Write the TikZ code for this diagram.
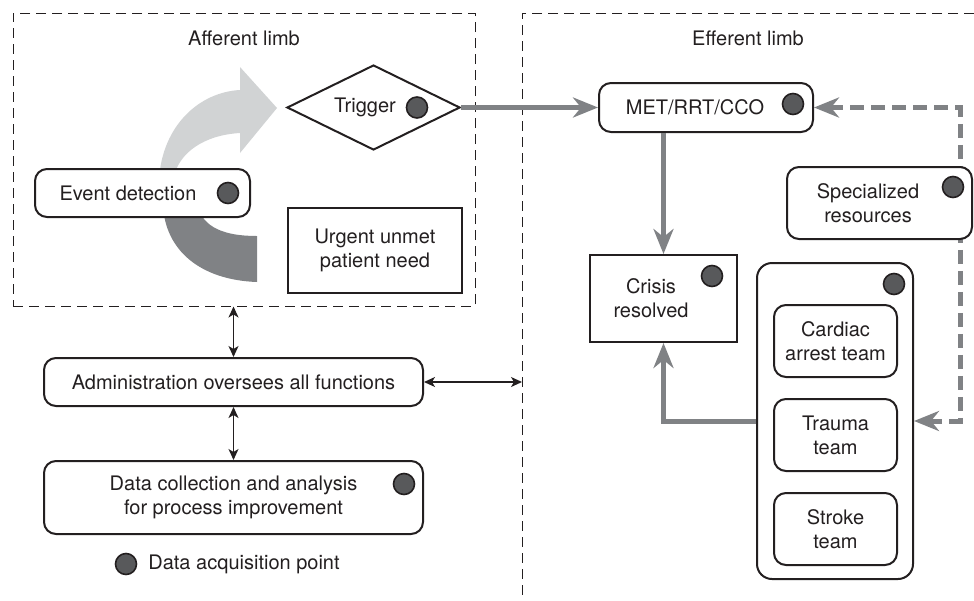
\documentclass[tikz,border=0pt]{standalone}
\usepackage{fontspec}
\setmainfont{TeX Gyre Heros}
\usepackage{tikz}
\usetikzlibrary{arrows.meta, positioning, backgrounds, shapes.geometric}
\definecolor{inkblack}{HTML}{231F20}
\definecolor{pathgray}{HTML}{808285}
\definecolor{bandlight}{HTML}{D1D3D4}
\definecolor{dotgray}{HTML}{58595B}
\tikzset{
  rbox/.style  = {rectangle, draw=inkblack, fill=white, rounded corners=6pt,
                  line width=1pt, inner sep=0pt},
  sbox/.style  = {rectangle, draw=inkblack, fill=white, line width=1pt},
  txt/.style   = {align=center, text=inkblack, font=\fontsize{10}{12}\selectfont},
  team/.style  = {rbox, txt, minimum width=61.5pt, minimum height=36pt},
  acq/.style   = {circle, draw=inkblack, fill=dotgray, line width=0.8pt,
                  minimum size=10.5pt, inner sep=0pt},
  limb/.style  = {draw=inkblack, line width=0.5pt, dash pattern=on 5pt off 3pt},
  garr/.style  = {-{Stealth[length=12.5pt, width=10pt, inset=4pt]},
                  draw=pathgray, line width=2.5pt},
  gdash/.style = {{Stealth[length=12.5pt, width=10pt, inset=4pt]}-{Stealth[length=12.5pt, width=10pt, inset=4pt]},
                  draw=pathgray, line width=2.5pt, dash pattern=on 7pt off 3.5pt},
  dbl/.style   = {{Stealth[length=5.5pt, width=5pt, inset=1.5pt]}-{Stealth[length=5.5pt, width=5pt, inset=1.5pt]},
                  draw=inkblack, line width=0.7pt},
}

\begin{document}
\begin{tikzpicture}[x=0.5pt, y=-0.5pt]
  \useasboundingbox (0,0) rectangle (974,600);

  % the two limbs
  \node[limb, minimum width=231pt, minimum height=146.5pt] (aff) at (244,159.5) {};
  \node[txt] (aff-t) at (244,38) {Afferent limb};
  \draw[limb] (974,13) -- (522,13) -- (522,600);
  \node[txt] (eff-t) at (748,38) {Efferent limb};
  \coordinate (effedge) at (522,382);

  % turning band behind event detection
  \fill[bandlight] (159,180) .. controls (162,125) and (200,92) .. (240,90)
    -- (240,67) -- (277,108) -- (240,153) -- (240,133)
    .. controls (205,135) and (178,152) .. (173,180) -- cycle;
  \fill[pathgray] (163,205) .. controls (165,250) and (200,280) .. (257,282)
    -- (257,236) .. controls (225,236) and (203,228) .. (197,205) -- cycle;

  % afferent limb
  \node[rbox, minimum width=107.5pt, minimum height=24pt] (evt) at (142.5,193) {};
  \node[txt] (evt-t) at ([xshift=-7.25pt]evt.center) {Event detection};
  \node[acq] (evt-dot) at ([xshift=-11.5pt]evt.east) {};

  \node[diamond, draw=inkblack, fill=white, line width=1pt, inner sep=0pt,
        minimum width=86.5pt, minimum height=42.5pt] (trig) at (373.5,107.5) {};
  \node[txt] (trig-t) at ([xshift=-4.25pt]trig.center) {Trigger};
  \node[acq] (trig-dot) at ([xshift=21.75pt]trig.center) {};

  \node[sbox, txt, minimum width=87pt, minimum height=42.5pt] (urg) at (375,250.5)
    {Urgent unmet\\patient need};

  % efferent limb
  \node[rbox, minimum width=107pt, minimum height=24.5pt] (met) at (706,107.5) {};
  \node[txt] (met-t) at ([xshift=-5.5pt]met.center) {MET/RRT/CCO};
  \node[acq] (met-dot) at ([xshift=-10.5pt, yshift=1.75pt]met.east) {};

  \node[rbox, minimum width=92.5pt, minimum height=36pt] (spec) at (879.5,203) {};
  \node[txt] (spec-t) at ([xshift=-5.75pt]spec.center) {Specialized\\resources};
  \node[acq] (spec-dot) at ([xshift=-10pt, yshift=-10.5pt]spec.north east) {};

  \node[sbox, minimum width=73.5pt, minimum height=43.5pt] (crisis) at (663.5,298.5) {};
  \node[txt] (crisis-t) at ([xshift=-6.25pt]crisis.center) {Crisis\\resolved};
  \node[acq] (crisis-dot) at ([xshift=-13pt, yshift=-11pt]crisis.north east) {};

  \node[rbox, rounded corners=7.5pt, minimum width=78pt, minimum height=158pt] (teams) at (835,421) {};
  \node[acq] (teams-dot) at ([xshift=-10pt, yshift=-11pt]teams.north east) {};
  \node[team] (cardiac) at (835.5,341) {Cardiac\\arrest team};
  \node[team, below=10pt of cardiac] (trauma) {Trauma\\team};
  \node[team, below=10pt of trauma] (stroke) {Stroke\\team};

  % administration and data
  \node[rbox, txt, minimum width=189.5pt, minimum height=24pt] (adm) at (233.5,382)
    {Administration oversees all functions};
  \node[rbox, txt, minimum width=189.5pt, minimum height=36.5pt] (dat) at (233.5,497.5)
    {Data collection and analysis\\for process improvement};
  \node[acq] (dat-dot) at ([xshift=-10pt, yshift=-12pt]dat.north east) {};

  \node[acq] (leg-dot) at (126,564) {};
  \node[txt, right=2pt of leg-dot] (leg-t) {Data acquisition point};

  % connectors
  \draw[garr] (trig.east) -- (met.west);
  \draw[garr] (met.south -| crisis.north) -- (crisis.north);
  \draw[garr] (teams.west) -| (crisis.south);
  \begin{scope}[on background layer]
    \coordinate (rail) at (960,300);
    \draw[gdash] (met.east) -| (rail) |- (teams.east);
  \end{scope}
  \draw[dbl] (aff.south -| adm.north) -- (adm.north);
  \draw[dbl] (adm.south) -- (dat.north);
  \draw[dbl] (adm.east) -- (effedge);
\end{tikzpicture}
\end{document}
